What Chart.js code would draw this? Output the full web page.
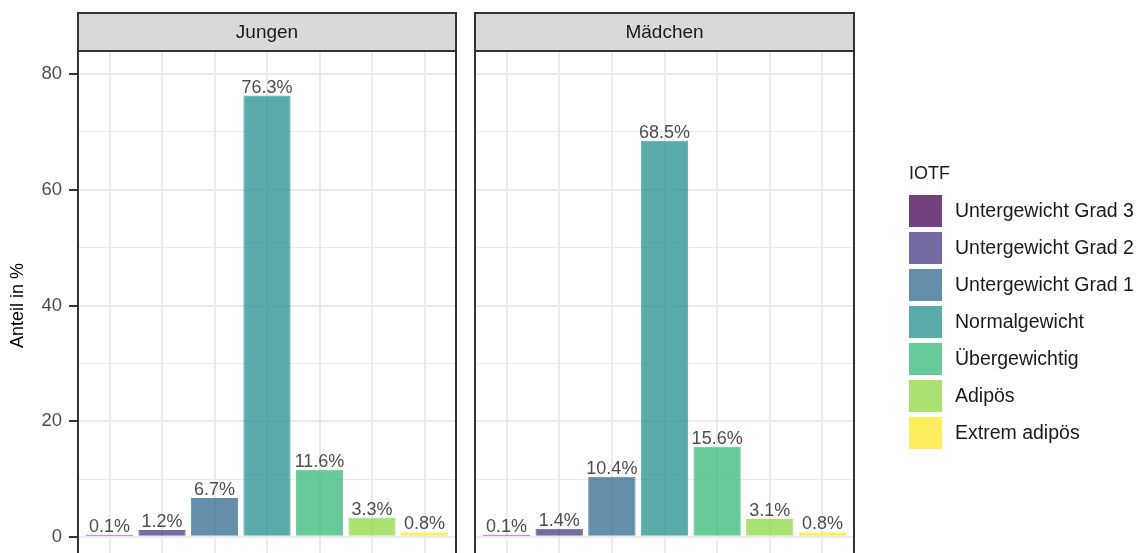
<!DOCTYPE html>
<html>
<head>
<meta charset="utf-8">
<script src="https://cdn.jsdelivr.net/npm/chart.js@4"></script>
<style>
  html, body { margin: 0; padding: 0; overflow: hidden; background: #fff; }
  #wrap { position: relative; width: 1140px; height: 553px; overflow: hidden; }
  canvas { position: absolute; left: 0; top: 0; }
  .legend { position: absolute; left: 909px; top: 160px; font-family: "Liberation Sans", Arial, sans-serif; color: #1a1a1a; }
  .legend .ttl { font-size: 18px; height: 32px; line-height: 26px; }
  .legend .row { display: flex; align-items: center; height: 37px; }
  .legend .key { width: 33px; height: 32px; margin-right: 13px; }
  .legend .lbl { font-size: 19.5px; white-space: nowrap; }
</style>
</head>
<body>
<div id="wrap">
  <canvas id="left" width="1140" height="560"></canvas>
  <canvas id="right" width="1140" height="560"></canvas>
  <div class="legend" id="legend"></div>
</div>
<script>
const categories = ['Untergewicht Grad 3', 'Untergewicht Grad 2', 'Untergewicht Grad 1', 'Normalgewicht', 'Übergewichtig', 'Adipös', 'Extrem adipös'];
const jungen = [0.1, 1.2, 6.7, 76.3, 11.6, 3.3, 0.8];
const maedchen = [0.1, 1.4, 10.4, 68.5, 15.6, 3.1, 0.8];
const panels = ['Jungen', 'Mädchen'];
const yTicks = [0, 20, 40, 60, 80];
const colors = [
  'rgba(68, 1, 84, 0.75)',
  'rgba(68, 58, 131, 0.75)',
  'rgba(49, 104, 142, 0.75)',
  'rgba(33, 144, 140, 0.75)',
  'rgba(53, 183, 121, 0.75)',
  'rgba(143, 215, 68, 0.75)',
  'rgba(253, 231, 37, 0.75)',
];
const FONT = '"Liberation Sans", Arial, sans-serif';

// strip, panel border, value labels
const facetPlugin = {
  id: 'facet',
  afterDatasetsDraw(chart, args, opts) {
    const ctx = chart.ctx;
    const a = chart.chartArea;
    ctx.save();
    // value labels
    ctx.font = '18px ' + FONT;
    ctx.fillStyle = '#4d4d4d';
    ctx.textAlign = 'center';
    ctx.textBaseline = 'alphabetic';
    const meta = chart.getDatasetMeta(0);
    meta.data.forEach((bar, i) => {
      const v = chart.data.datasets[0].data[i].y;
      ctx.fillText(v.toFixed(1) + '%', bar.x, bar.y - 3);
    });
    // panel border
    ctx.strokeStyle = '#333333';
    ctx.lineWidth = 2;
    ctx.strokeRect(a.left, a.top, a.right - a.left, a.bottom - a.top);
    // strip
    ctx.fillStyle = '#d9d9d9';
    ctx.fillRect(a.left, 13, a.right - a.left, a.top - 13);
    ctx.strokeRect(a.left, 13, a.right - a.left, a.top - 13);
    ctx.fillStyle = '#1a1a1a';
    ctx.font = '19px ' + FONT;
    ctx.textBaseline = 'middle';
    ctx.fillText(opts.title, (a.left + a.right) / 2, 33);
    // y axis title
    if (opts.yTitle) {
      ctx.translate(18, (a.top + a.bottom) / 2);
      ctx.rotate(-Math.PI / 2);
      ctx.fillStyle = '#000';
      ctx.font = '18px ' + FONT;
      ctx.fillText(opts.yTitle, 0, 0);
    }
    ctx.restore();
  }
};

function makePanel(id, values, title, isLeft) {
  return new Chart(document.getElementById(id), {
    type: 'bar',
    data: {
      datasets: [{
        data: values.map((v, i) => ({ x: i + 1, y: v })),
        backgroundColor: colors,
        borderColor: colors,
        borderWidth: 1,
        minBarLength: 2,
        barPercentage: 0.9,
        categoryPercentage: 1,
      }],
    },
    options: {
      responsive: false,
      animation: false,
      events: [],
      layout: {
        padding: isLeft
          ? { left: 0, right: 1140 - 456, top: 51, bottom: 0 }
          : { left: 475, right: 1140 - 854, top: 51, bottom: 0 },
      },
      plugins: {
        legend: { display: false },
        tooltip: { enabled: false },
        facet: { title: title, yTitle: isLeft ? 'Anteil in %' : null },
      },
      scales: {
        x: {
          type: 'linear',
          min: 0.4,
          max: 7.6,
          offset: false,
          border: { display: false },
          ticks: { display: false, stepSize: 1, includeBounds: false },
          grid: { color: '#ebebeb', lineWidth: 2, drawTicks: false, offset: false },
          afterFit: s => { s.height = 0; s.paddingLeft = 0; s.paddingRight = 0; },
        },
        y: {
          min: -4,
          max: 84,
          border: { display: false },
          ticks: {
            display: isLeft,
            stepSize: 10,
            includeBounds: false,
            padding: 7,
            color: '#4d4d4d',
            font: { family: FONT, size: 18.5 },
            callback: v => (yTicks.includes(v) ? String(v) : ''),
          },
          grid: {
            color: '#ebebeb',
            lineWidth: c => (c.tick && yTicks.includes(c.tick.value) ? 2 : 1),
            drawTicks: isLeft,
            tickLength: 9,
            tickWidth: 2,
            tickColor: c => (c.tick && yTicks.includes(c.tick.value) ? '#333333' : 'rgba(0,0,0,0)'),
          },
          afterFit: s => { s.width = isLeft ? 78 : 0; s.paddingTop = 0; s.paddingBottom = 0; },
        },
      },
    },
    plugins: [facetPlugin],
  });
}

makePanel('left', jungen, panels[0], true);
makePanel('right', maedchen, panels[1], false);

// legend
const lg = document.getElementById('legend');
let html = '<div class="ttl">IOTF</div>';
categories.forEach((c, i) => {
  html += '<div class="row"><div class="key" style="background:' + colors[i] + '"></div><div class="lbl">' + c + '</div></div>';
});
lg.innerHTML = html;
</script>
</body>
</html>
